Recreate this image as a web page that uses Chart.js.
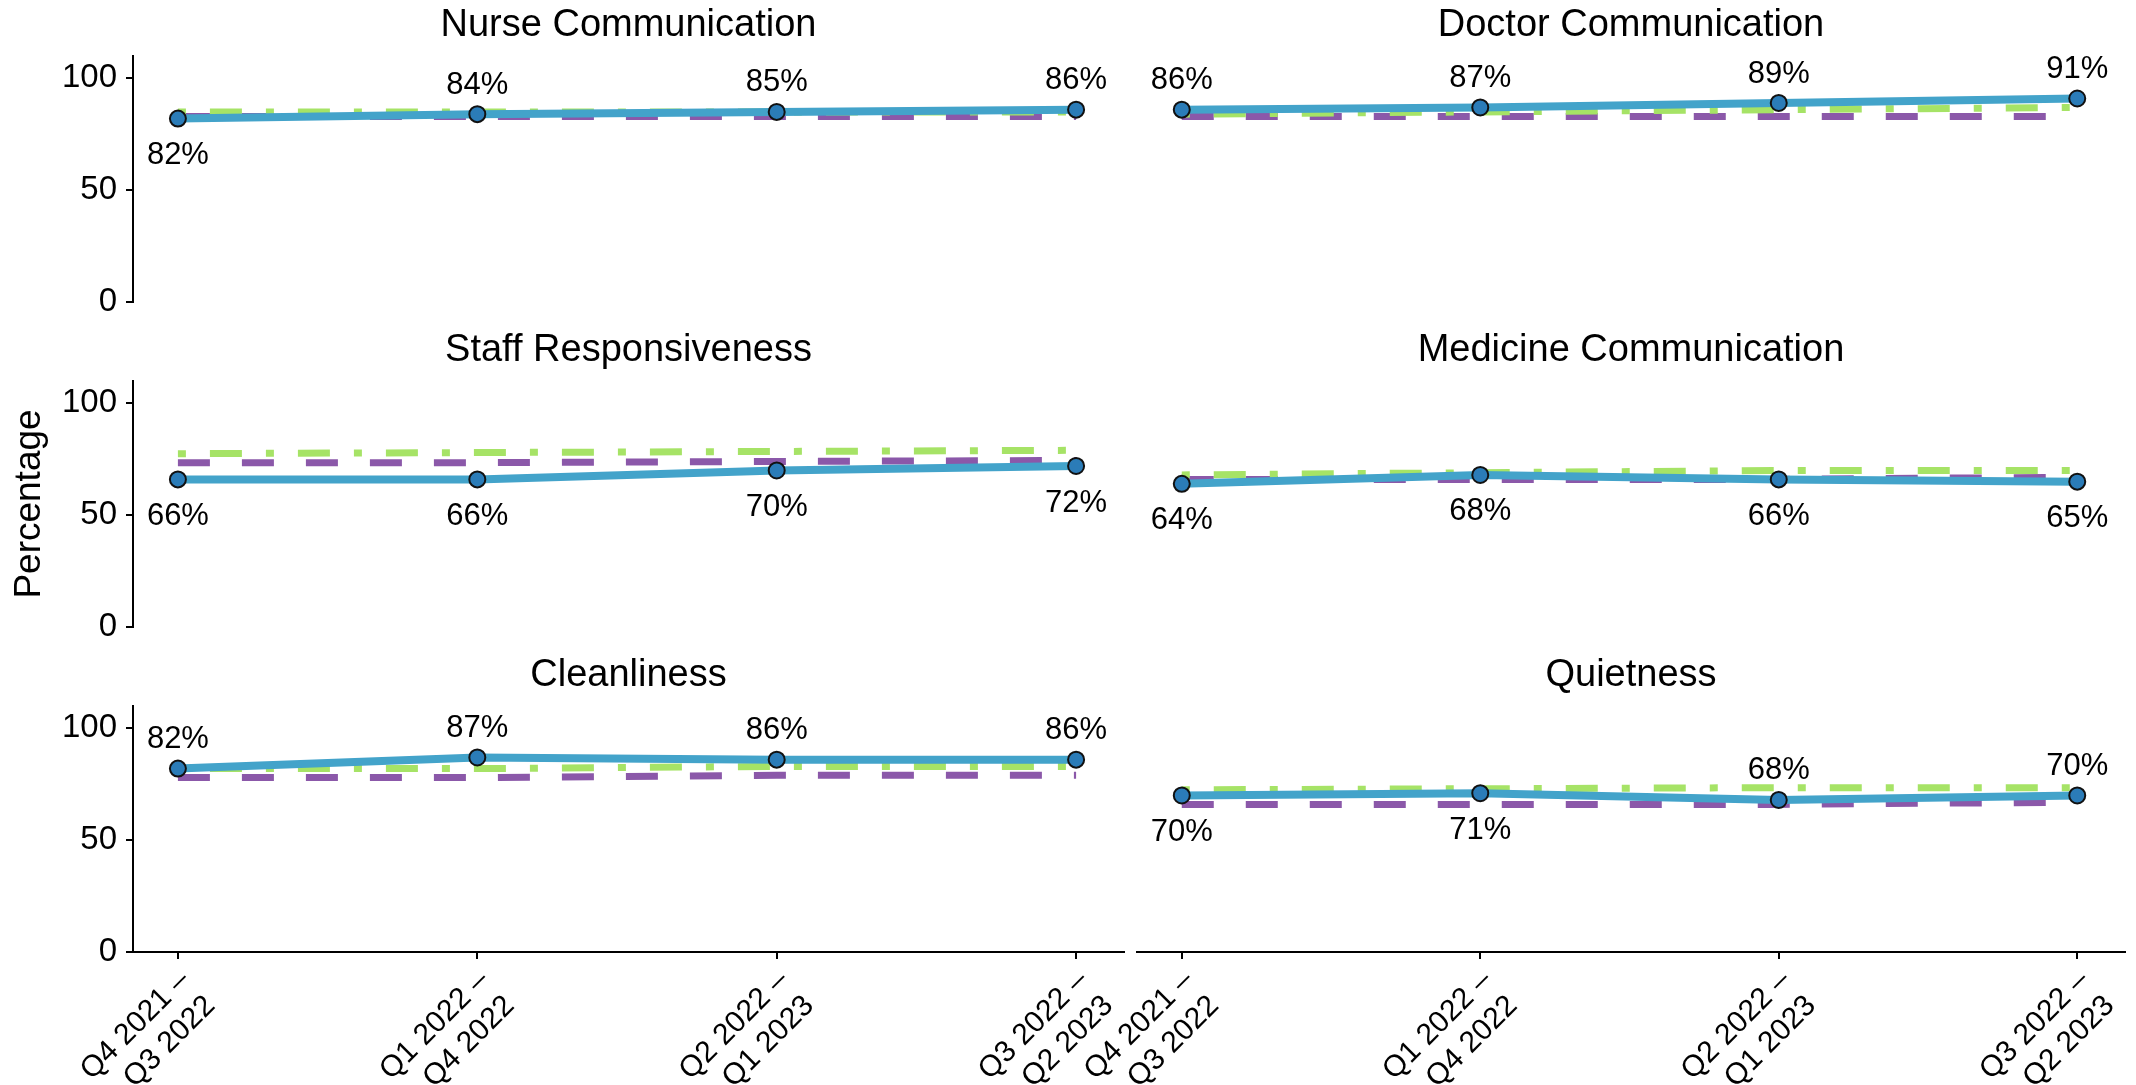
<!DOCTYPE html>
<html>
<head>
<meta charset="utf-8">
<script src="https://cdn.jsdelivr.net/npm/chart.js@4.4.1/dist/chart.umd.min.js"></script>
<style>
  html, body { margin: 0; padding: 0; background: #fff; }
  body { width: 2136px; height: 1085px; position: relative; overflow: hidden; }
  canvas { position: absolute; }
</style>
</head>
<body>
<script>
var periods = [['Q4 2021 –', 'Q3 2022'], ['Q1 2022 –', 'Q4 2022'], ['Q2 2022 –', 'Q1 2023'], ['Q3 2022 –', 'Q2 2023']];
var panelTitles = ['Nurse Communication', 'Doctor Communication', 'Staff Responsiveness',
                   'Medicine Communication', 'Cleanliness', 'Quietness'];
// solid blue line, one row per panel
var hospitalScores = [[82, 84, 85, 86], [86, 87, 89, 91], [66, 66, 70, 72],
                      [64, 68, 66, 65], [82, 87, 86, 86], [70, 71, 68, 70]];
// green dash-dot line
var nationalScores = [[85, 85, 85, 85], [84, 85, 86, 87], [77.5, 78, 78.5, 79],
                      [68, 69, 70, 70], [82, 82, 83, 83], [72.5, 73, 73.5, 73.5]];
// purple dashed line
var stateScores = [[83, 83, 83, 83], [83, 83, 83, 83], [73.5, 73.5, 74, 74.5],
                   [66, 66, 66, 67], [78, 78, 79, 79], [66, 66, 66, 67]];
var yTicks = [0, 50, 100];

// label above (1) or below (-1) the point
var labelSide = [[-1, 1, 1, 1], [1, 1, 1, 1], [-1, -1, -1, -1],
                 [-1, -1, -1, -1], [1, 1, 1, 1], [-1, -1, 1, 1]];

var FONT = '"Liberation Sans", Arial, sans-serif';
// canvas placement; plot areas sit at x 133-1124 and 1137-2125
var colLeft = [0, 1060], colWidth = [1140, 1076];
var padLeft = [0, 77], padRight = [16, 11];
var rowTop = [0, 325, 650];
var plotH = 246, titleH = 56, xAxisH = 133, bottomPad = 24;

var pointLabels = {
    id: 'pointLabels',
    afterDatasetsDraw: function(chart, args, opts) {
        var ctx = chart.ctx;
        var meta = chart.getDatasetMeta(0);
        ctx.save();
        ctx.font = '31px ' + FONT;
        ctx.fillStyle = '#000';
        ctx.textAlign = 'center';
        ctx.textBaseline = 'middle';
        meta.data.forEach(function(pt, i) {
            var side = labelSide[opts.panel][i];
            var y = side > 0 ? pt.y - 29 : pt.y + 37;
            ctx.fillText(hospitalScores[opts.panel][i] + '%', pt.x, y);
        });
        ctx.restore();
    }
};

panelTitles.forEach(function(title, p) {
    var row = Math.floor(p / 2), col = p % 2;
    var bottom = row === 2;
    var canvas = document.createElement('canvas');
    canvas.width = colWidth[col];
    canvas.height = titleH + plotH + (bottom ? xAxisH : bottomPad);
    canvas.style.left = colLeft[col] + 'px';
    canvas.style.top = rowTop[row] + 'px';
    document.body.appendChild(canvas);

    var toPoints = function(arr) {
        return arr.map(function(v, i) { return { x: i, y: v }; });
    };

    new Chart(canvas.getContext('2d'), {
        type: 'line',
        data: {
            datasets: [{
                label: 'Hospital',
                data: toPoints(hospitalScores[p]),
                borderColor: '#43a3ca',
                borderWidth: 8,
                pointRadius: 8,
                pointBackgroundColor: '#2b7cb8',
                pointBorderColor: '#111',
                pointBorderWidth: 2,
                tension: 0
            }, {
                label: 'National',
                data: toPoints(nationalScores[p]),
                borderColor: '#a6e366',
                borderWidth: 7,
                borderDash: [8, 24, 32, 24],
                pointRadius: 0,
                tension: 0
            }, {
                label: 'State',
                data: toPoints(stateScores[p]),
                borderColor: '#8b58a9',
                borderWidth: 7,
                borderDash: [32, 32],
                pointRadius: 0,
                tension: 0
            }]
        },
        options: {
            responsive: false,
            animation: false,
            layout: { padding: { left: padLeft[col], right: padRight[col], top: 0, bottom: bottom ? 0 : bottomPad } },
            plugins: {
                legend: { display: false },
                tooltip: { enabled: false },
                title: {
                    display: true,
                    text: title,
                    fullSize: false,
                    color: '#000',
                    font: { family: FONT, size: 38, weight: 'normal', lineHeight: 1.2 },
                    padding: { top: 3, bottom: 7.4 }
                },
                pointLabels: { panel: p }
            },
            scales: {
                x: {
                    type: 'linear',
                    min: -0.15,
                    max: 3.16,
                    display: bottom,
                    afterBuildTicks: function(s) {
                        s.ticks = periods.map(function(lbl, i) { return { value: i }; });
                    },
                    afterFit: function(s) {
                        if (bottom) s.height = xAxisH;
                        s.paddingLeft = 0;
                        s.paddingRight = 0;
                    },
                    border: { display: true, color: '#000', width: 2 },
                    grid: { drawOnChartArea: false, drawTicks: true, tickLength: 7, color: '#000', lineWidth: 2 },
                    ticks: {
                        autoSkip: false,
                        minRotation: 45,
                        maxRotation: 45,
                        color: '#000',
                        font: { family: FONT, size: 30 },
                        padding: 4,
                        labelOffset: 7,
                        callback: function(v) { return periods[v]; }
                    }
                },
                y: {
                    min: 0,
                    max: 110,
                    display: col === 0,
                    afterBuildTicks: function(s) {
                        s.ticks = yTicks.map(function(v) { return { value: v }; });
                    },
                    afterFit: function(s) {
                        if (col === 0) s.width = 133;
                        s.paddingTop = 0;
                        s.paddingBottom = 0;
                    },
                    border: { display: true, color: '#000', width: 2 },
                    grid: { drawOnChartArea: false, drawTicks: true, tickLength: 7, color: '#000', lineWidth: 2 },
                    title: {
                        display: p === 2,
                        text: 'Percentage',
                        color: '#000',
                        font: { family: FONT, size: 37 },
                        padding: { top: 8, bottom: 0 }
                    },
                    ticks: {
                        color: '#000',
                        font: { family: FONT, size: 33 },
                        padding: 9
                    }
                }
            }
        },
        plugins: [pointLabels]
    });
});
</script>
</body>
</html>
